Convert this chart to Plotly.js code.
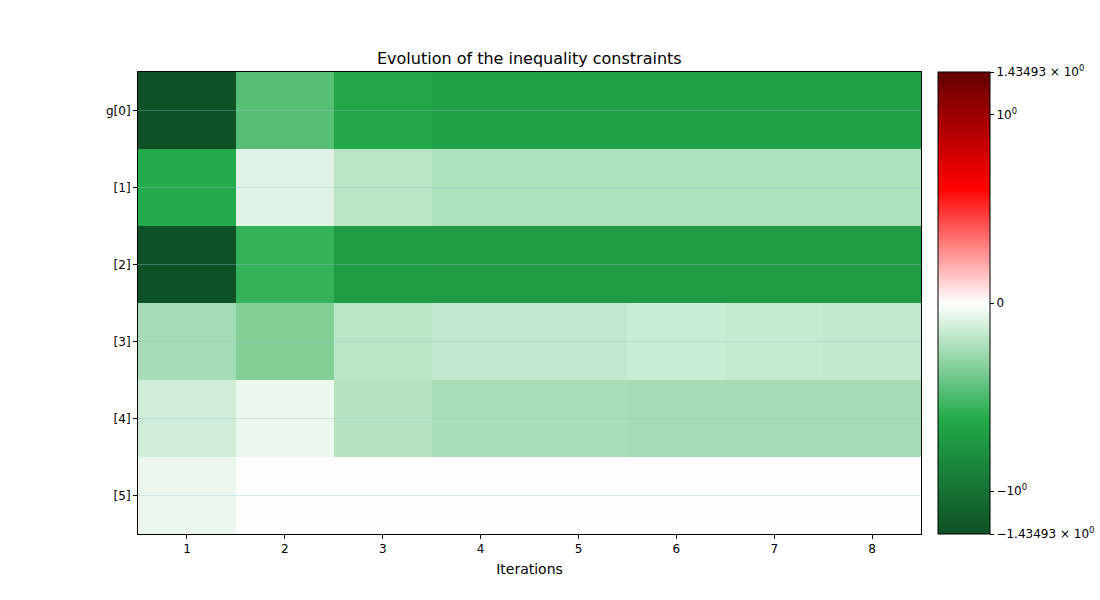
<!DOCTYPE html>
<html>
<head>
<meta charset="utf-8">
<script src="https://cdn.plot.ly/plotly-3.0.1.min.js"></script>
<style>html,body{margin:0;padding:0;background:#fff;}</style>
</head>
<body>
<div id="chart" style="width:1100px;height:600px;"></div>
<script>
// Iterations (x) and constraint labels (y, top to bottom)
const iterations = [1, 2, 3, 4, 5, 6, 7, 8];
const constraintLabels = ["g[0]", "[1]", "[2]", "[3]", "[4]", "[5]"];
// Constraint values per constraint, per iteration (estimated from colours)
const g0 = [-1.43493, -0.47, -0.64, -0.68, -0.68, -0.68, -0.68, -0.68];
const g1 = [-0.61, -0.086, -0.196, -0.22, -0.22, -0.22, -0.22, -0.22];
const g2 = [-1.42, -0.56, -0.717, -0.72, -0.72, -0.72, -0.72, -0.72];
const g3 = [-0.25, -0.35, -0.19, -0.165, -0.165, -0.147, -0.16, -0.17];
const g4 = [-0.137, -0.056, -0.204, -0.238, -0.238, -0.25, -0.25, -0.25];
const g5 = [-0.056, 0.006, 0.006, 0.006, 0.006, 0.006, 0.006, 0.006];
const vmax = 1.43493;
// colorbar tick values (raw) and labels
const cbTickValues = [-1.43493, -1, 0, 1, 1.43493];
const cbTickLabels = ["\u22121.43493 \u00d7 10<sup>0</sup>", "\u221210<sup>0</sup>", "0", "10<sup>0</sup>", "1.43493 \u00d7 10<sup>0</sup>"];

// Symmetric log norm (linthresh = 1, base e, linscale = 1)
const linAdj = 1 / (1 - 1 / Math.E);
function symlog(v) {
  const a = Math.abs(v);
  const t = a <= 1 ? a * linAdj : linAdj + Math.log(a);
  return Math.sign(v) * t;
}
const rows = [g0, g1, g2, g3, g4, g5];
const zT = rows.map(r => r.map(symlog));
const zmax = symlog(vmax);
const rowIdx = constraintLabels.map((_, i) => i);

const trace = {
  type: "heatmap",
  x: iterations,
  y: rowIdx,
  z: zT,
  customdata: rows,
  hovertemplate: "%{customdata}<extra></extra>",
  zmin: -zmax,
  zmax: zmax,
  colorscale: [
    [0, "rgb(15,80,38)"],
    [0.25, "rgb(35,170,75)"],
    [0.5, "rgb(255,255,255)"],
    [0.75, "rgb(255,0,0)"],
    [1, "rgb(100,0,0)"]
  ],
  colorbar: {
    x: 938 / 1100, xanchor: "left", xref: "container", xpad: 0, ypad: 0,
    y: 0.5, yanchor: "middle", len: 1, lenmode: "fraction",
    thickness: 52, outlinecolor: "black", outlinewidth: 1,
    tickmode: "array",
    tickvals: cbTickValues.map(symlog),
    ticktext: cbTickLabels,
    ticks: "outside", ticklen: 4, tickcolor: "black",
    tickfont: {family: "DejaVu Sans", size: 12, color: "black"}
  }
};

// faint horizontal grid lines at the constraint rows, drawn above the cells
const gridShapes = rowIdx.map(i => ({
  type: "line", xref: "paper", yref: "y", x0: 0, x1: 1, y0: i, y1: i,
  line: {color: "rgba(150,195,210,0.35)", width: 1}, layer: "above"
}));

const layout = {
  width: 1100, height: 600,
  margin: {l: 138, r: 179, t: 72, b: 66},
  paper_bgcolor: "white", plot_bgcolor: "white",
  title: {text: "Evolution of the inequality constraints", x: 0.4812, xanchor: "center", y: 0.903, yanchor: "middle",
          font: {family: "DejaVu Sans", size: 16, color: "black"}},
  xaxis: {
    range: [0.5, 8.5], tickmode: "array", tickvals: iterations, ticktext: iterations.map(String),
    ticks: "outside", ticklen: 4, tickcolor: "black", showgrid: false, zeroline: false,
    showline: true, linecolor: "black", linewidth: 1, mirror: true,
    tickfont: {family: "DejaVu Sans", size: 12, color: "black"},
    title: {text: "Iterations", font: {family: "DejaVu Sans", size: 14, color: "black"}, standoff: 8}
  },
  yaxis: {
    range: [5.5, -0.5], tickmode: "array", tickvals: rowIdx, ticktext: constraintLabels,
    ticks: "outside", ticklen: 4, tickcolor: "black", zeroline: false, showgrid: false,
    showline: true, linecolor: "black", linewidth: 1, mirror: true,
    tickfont: {family: "DejaVu Sans", size: 12, color: "black"}
  },
  shapes: gridShapes,
  font: {family: "DejaVu Sans"}
};

Plotly.newPlot("chart", [trace], layout, {displayModeBar: false, staticPlot: true});
</script>
</body>
</html>
